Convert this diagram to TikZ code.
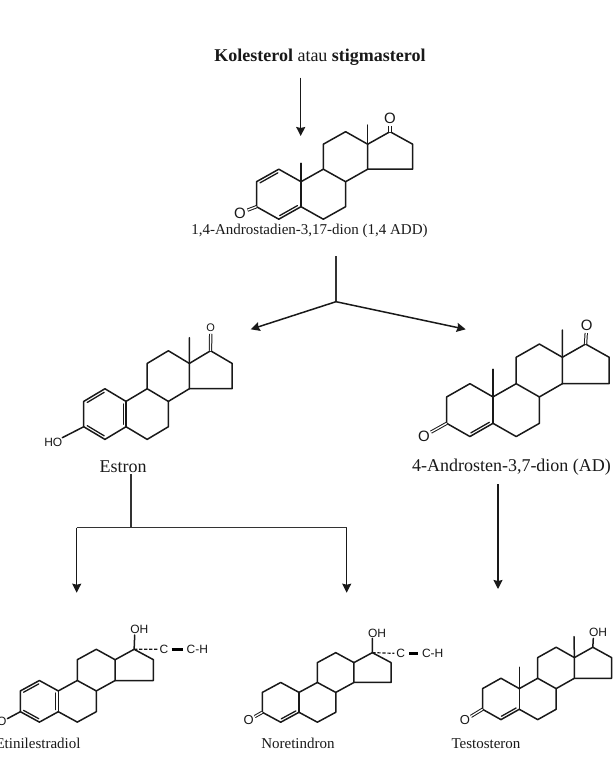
\documentclass[tikz,border=0pt]{standalone}
\usepackage{fontspec}
\setmainfont{Liberation Serif}
\newfontfamily\chemfont{Liberation Sans}
\usetikzlibrary{arrows.meta,calc}
\tikzset{
  bond/.style={line width=1.5pt,line cap=round,line join=round,color=black!90},
  thinbond/.style={line width=1.3pt,line cap=round,color=black!90},
  oxobond/.style={line width=1pt,double,double distance=1.3pt,color=black!90},
  hashbond/.style={line width=1.2pt,dash pattern=on 3.2pt off 1.8pt,color=black!90},
  triplebond/.style={line width=3.2pt,color=black},
  flow/.style={line width=1.5pt,color=black!90,-{Stealth[length=9pt,width=9pt,inset=1pt]}},
  flowline/.style={line width=1.5pt,color=black!80},
  atom/.style={font=\chemfont\fontsize{#1}{#1}\selectfont,inner sep=0pt,circle,color=black!90},
  atom/.default=12,
  label/.style={font=\fontsize{#1}{#1}\selectfont,anchor=base,inner sep=0pt,color=black!90},
}
% common B, C, D rings; named coordinates for all ring atoms
\newcommand{\steroid}[5]{%
  \begin{scope}[shift={(#2,#3)},xscale=#4,yscale=#5]
    \coordinate (#1c10) at (0,0);
    \coordinate (#1c5) at (0,25);
    \coordinate (#1c4) at (-22.2,37.5);
    \coordinate (#1c3) at (-44.5,25);
    \coordinate (#1c2) at (-44.5,0);
    \coordinate (#1c1) at (-22.2,-12.5);
    \coordinate (#1c6) at (22.3,37.5);
    \coordinate (#1c7) at (44.6,25);
    \coordinate (#1c8) at (44.6,0);
    \coordinate (#1c9) at (22.3,-12.5);
    \coordinate (#1c11) at (22.3,-37.5);
    \coordinate (#1c12) at (44.6,-50);
    \coordinate (#1c13) at (66.7,-37.5);
    \coordinate (#1c14) at (66.7,-12.5);
    \coordinate (#1c15) at (111.7,-12.5);
    \coordinate (#1c16) at (111.7,-37.5);
    \coordinate (#1c17) at (89,-50);
  \end{scope}
  \draw[bond] (#1c5) -- (#1c6) -- (#1c7) -- (#1c8) -- (#1c9) -- (#1c10);
  \draw[bond] (#1c10) -- (#1c5);
  \draw[bond] (#1c9) -- (#1c11) -- (#1c12) -- (#1c13) -- (#1c14) -- (#1c8);
  \draw[bond] (#1c13) -- (#1c17) -- (#1c16) -- (#1c15) -- (#1c14);
}
% second line of a ring double bond, #3 = +1 or -1 picks the side
\newcommand{\inner}[3]{%
  \draw[thinbond] ($(#1)!0.1!(#2)!#3*2.7pt!90:(#2)$) -- ($(#2)!0.1!(#1)!#3*2.7pt!-90:(#1)$);}
\begin{document}
\begin{tikzpicture}[x=1pt,y=-1pt]
\useasboundingbox (0,0) rectangle (616,766);
\fill[white] (0,0) rectangle (616,766);

% ---- 1,4-ADD
\steroid{t}{301}{181.7}{1}{1}
\draw[bond] (tc10) -- (tc1) -- (tc2) -- (tc3) -- (tc4) -- (tc5);
\inner{tc1}{tc2}{1}
\inner{tc4}{tc5}{1}
\coordinate (tm13) at (367.7,125);
\coordinate (tm10) at (301,163.3);
\draw[bond] (tc13) -- (tm13);
\draw[bond] (tc10) -- (tm10);
\node[atom=15] (to17) at (390,118.3) {O};
\node[atom=15] (to3) at (240,213) {O};
\draw[oxobond] (tc17) -- (to17);
\draw[oxobond] (tc3) -- (to3);

% ---- Estron
\steroid{e}{126}{401.4}{.95}{1.013}
\draw[bond] (ec10) -- (ec1) -- (ec2) -- (ec3) -- (ec4) -- (ec5);
\inner{ec1}{ec2}{1}
\inner{ec3}{ec4}{1}
\inner{ec5}{ec10}{1}
\coordinate (em13) at (189.3,337.7);
\draw[bond] (ec13) -- (em13);
\node[atom=11] (eo17) at (210.7,328) {O};
\node[atom=12] (eho) at (53.3,442.3) {HO};
\draw[oxobond] (ec17) -- (eo17);
\draw[bond] (ec3) -- (eho);

% ---- AD
\steroid{a}{493}{396.9}{1.04}{1.057}
\draw[bond] (ac10) -- (ac1) -- (ac2) -- (ac3) -- (ac4) -- (ac5);
\inner{ac4}{ac5}{1}
\coordinate (am13) at (562.3,330);
\coordinate (am10) at (493,369.3);
\draw[bond] (ac13) -- (am13);
\draw[bond] (ac10) -- (am10);
\node[atom=15] (ao17) at (586.7,325) {O};
\node[atom=15] (ao3) at (424,436) {O};
\draw[oxobond] (ac17) -- (ao17);
\draw[oxobond] (ac3) -- (ao3);

% ---- Etinilestradiol
\steroid{i}{58.3}{690.9}{.852}{.832}
\draw[bond] (ic10) -- (ic1) -- (ic2) -- (ic3) -- (ic4) -- (ic5);
\inner{ic1}{ic2}{1}
\inner{ic3}{ic4}{1}
\inner{ic5}{ic10}{1}
\node[atom=12] (ioh) at (139.3,629.3) {OH};
\node[atom=12] (ic) at (164,649.3) {C};
\node[atom=12] (ich) at (197.3,649.3) {C-H};
\node[atom=12] (io3) at (1.7,721.7) {O};
\coordinate (iohb) at (134.7,635);
\draw[bond] (ic17) -- (iohb);
\draw[hashbond] (ic17) -- (ic.west);
\coordinate (itr1) at (171.7,649.3);
\coordinate (itr2) at (182.7,649.3);
\draw[triplebond] (itr1) -- (itr2);
\draw[bond] (ic3) -- (io3);

% ---- Noretindron
\steroid{n}{299}{692.4}{.824}{.795}
\draw[bond] (nc10) -- (nc1) -- (nc2) -- (nc3) -- (nc4) -- (nc5);
\inner{nc4}{nc5}{1}
\node[atom=12] (noh) at (377,633.3) {OH};
\node[atom=12] (nc) at (400.7,653.3) {C};
\node[atom=12] (nch) at (432.7,653.3) {C-H};
\node[atom=13] (no3) at (248.7,720) {O};
\coordinate (nohb) at (372.3,638.3);
\draw[bond] (nc17) -- (nohb);
\draw[hashbond] (nc17) -- (nc.west);
\coordinate (ntr1) at (409,653.3);
\coordinate (ntr2) at (418.3,653.3);
\draw[triplebond] (ntr1) -- (ntr2);
\draw[oxobond] (nc3) -- (no3);

% ---- Testosteron
\steroid{s}{519.3}{688.6}{.826}{.827}
\draw[bond] (sc10) -- (sc1) -- (sc2) -- (sc3) -- (sc4) -- (sc5);
\inner{sc4}{sc5}{1}
\coordinate (sm13) at (574,636.7);
\coordinate (sm10) at (519.3,667.3);
\draw[bond] (sc13) -- (sm13);
\draw[bond] (sc10) -- (sm10);
\node[atom=12] (soh) at (598,632.7) {OH};
\node[atom=13] (so3) at (465,720) {O};
\coordinate (sohb) at (593.3,638.3);
\draw[bond] (sc17) -- (sohb);
\draw[oxobond] (sc3) -- (so3);

% ---- labels
\node[label=18] (kol) at (320,61.7) {\textbf{Kolesterol} atau \textbf{stigmasterol}};
\node[label=15] (ladd) at (309.5,234) {1,4-Androstadien-3,17-dion (1,4 ADD)};
\node[label=18] (lest) at (123,472.3) {Estron};
\node[label=18] (lad) at (511.5,471.7) {4-Androsten-3,7-dion (AD)};
\node[label=15] (leti) at (38,748.3) {Etinilestradiol};
\node[label=15] (lnor) at (298,748.3) {Noretindron};
\node[label=15] (ltes) at (486,748.3) {Testosteron};

% ---- arrows
\coordinate (a0s) at (300.7,77.7);
\coordinate (a0e) at (300.7,136);
\draw[flow] (a0s) -- (a0e);

\coordinate (f0) at (336,256);
\coordinate (f1) at (336,301.7);
\coordinate (fl) at (250.7,329.3);
\coordinate (fr) at (465.7,329.3);
\draw[flowline] (f0) -- (f1);
\draw[flow] (f1) -- (fl);
\draw[flow] (f1) -- (fr);

\coordinate (g0) at (131,474);
\coordinate (g1) at (131,527.7);
\coordinate (gl) at (76.7,527.7);
\coordinate (gr) at (346.7,527.7);
\coordinate (gle) at (76.7,592.7);
\coordinate (gre) at (346.7,592.7);
\draw[flowline] (g0) -- (g1);
\draw[flowline] (gl) -- (gr);
\draw[flow] (gl) -- (gle);
\draw[flow] (gr) -- (gre);

\coordinate (h0) at (498,484.3);
\coordinate (h1) at (498,589);
\draw[flow] (h0) -- (h1);
\end{tikzpicture}
\end{document}
